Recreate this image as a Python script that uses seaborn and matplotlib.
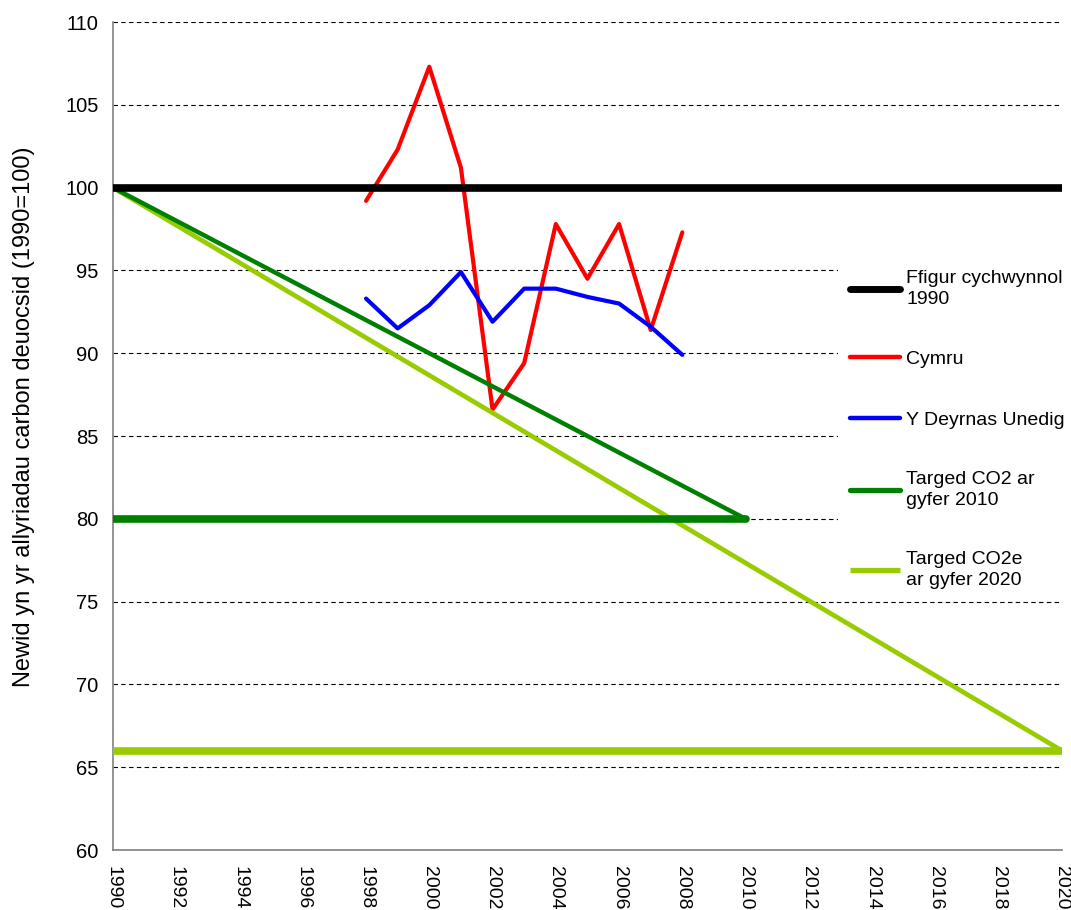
import matplotlib
matplotlib.use("Agg")
import matplotlib.pyplot as plt
import seaborn as sns
from matplotlib.ticker import MultipleLocator
from matplotlib.lines import Line2D

# Blynyddoedd a gwerthoedd (1990=100)
years_obs = [1998, 1999, 2000, 2001, 2002, 2003, 2004, 2005, 2006, 2007, 2008]
cymru = [99.2, 102.3, 107.3, 101.2, 86.6, 89.4, 97.8, 94.5, 97.8, 91.4, 97.3]
uk = [93.3, 91.5, 92.9, 94.9, 91.9, 93.9, 93.9, 93.4, 93.0, 91.6, 89.9]

baseline_years = [1990, 2020]
baseline = [100, 100]

target2010_years = [1990, 2010]
target2010_path = [100, 80]
target2010_level = [80, 80]

target2020_years = [1990, 2020]
target2020_path = [100, 66]
target2020_level = [66, 66]

labels = ['Ffigur cychwynnol\n1990', 'Cymru', 'Y Deyrnas Unedig',
          'Targed CO2 ar\ngyfer 2010', 'Targed CO2e\nar gyfer 2020']

sns.set_style("white")
plt.rcParams['font.family'] = ['Liberation Sans', 'DejaVu Sans']
plt.rcParams['text.color'] = 'black'
plt.rcParams['axes.labelcolor'] = 'black'

fig = plt.figure(figsize=(10.71, 9.10), dpi=100)
ax = fig.add_axes([0.1055, 0.0659, 0.886, 0.9099])

red = '#ff0000'
blue = '#0000ff'
dgreen = '#008000'
lgreen = '#99cc00'

# Cymru a'r DU
sns.lineplot(x=years_obs, y=cymru, color=red, lw=3, ax=ax, zorder=2, solid_capstyle='round')
sns.lineplot(x=years_obs, y=uk, color=blue, lw=3, ax=ax, zorder=2, solid_capstyle='round')

# Targedau
sns.lineplot(x=target2020_years, y=target2020_level, color=lgreen, lw=5.5, ax=ax, zorder=3, solid_capstyle='round')
sns.lineplot(x=target2020_years, y=target2020_path, color=lgreen, lw=3.4, ax=ax, zorder=3, solid_capstyle='round')
sns.lineplot(x=target2010_years, y=target2010_level, color=dgreen, lw=5.5, ax=ax, zorder=3, solid_capstyle='round')
sns.lineplot(x=target2010_years, y=target2010_path, color=dgreen, lw=3.2, ax=ax, zorder=3, solid_capstyle='round')

# Ffigur 1990
sns.lineplot(x=baseline_years, y=baseline, color='black', lw=5.5, ax=ax, zorder=4, solid_capstyle='butt')

ax.set_xlim(1990, 2020)
ax.set_ylim(60, 110)
ax.xaxis.set_major_locator(MultipleLocator(2))
ax.xaxis.set_minor_locator(MultipleLocator(1))
ax.yaxis.set_major_locator(MultipleLocator(5))
ax.grid(axis='y', color='black', linestyle=(0, (4, 3)), lw=0.8, zorder=0)
ax.set_axisbelow(True)

for s in ['top', 'right']:
    ax.spines[s].set_visible(False)
for s in ['left', 'bottom']:
    ax.spines[s].set_color('#808080')
    ax.spines[s].set_linewidth(1.2)

ax.tick_params(axis='both', which='both', direction='out', color='#808080', width=1.2,
               labelcolor='black')
ax.tick_params(axis='both', which='major', length=7)
ax.tick_params(axis='y', labelsize=14.5)
ax.tick_params(axis='x', which='minor', length=7)
ax.tick_params(axis='x', labelrotation=270, labelsize=14, pad=4.5)
ax.set_xlabel('')
ax.set_ylabel('Newid yn yr allyriadau carbon deuocsid (1990=100)', fontsize=17)
ax.yaxis.set_label_coords(-0.082, 0.523)

handles = [
    Line2D([], [], color='black', lw=5, solid_capstyle='round'),
    Line2D([], [], color=red, lw=3.2, solid_capstyle='round'),
    Line2D([], [], color=blue, lw=3.2, solid_capstyle='round'),
    Line2D([], [], color=dgreen, lw=3.8, solid_capstyle='round'),
    Line2D([], [], color=lgreen, lw=3.8, solid_capstyle='butt'),
]
leg = ax.legend(handles, labels, loc='upper left', bbox_to_anchor=(0.764, 0.714),
                fontsize=14, frameon=True, facecolor='white', edgecolor='none',
                framealpha=1, handlelength=2.6, handletextpad=0.3,
                labelspacing=2.2, borderpad=0.6, borderaxespad=0)
for t in leg.get_texts():
    t.set_linespacing(1.25)
leg.set_zorder(5)

fig.savefig('out.png', dpi=100)
